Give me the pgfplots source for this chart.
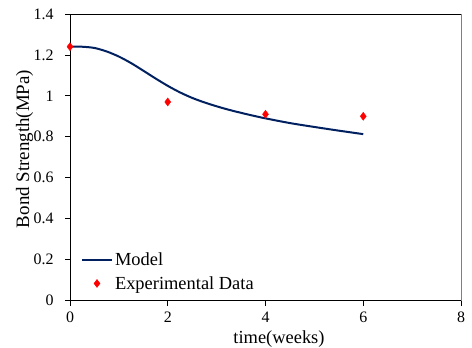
\documentclass[border=0pt]{standalone}
\usepackage{fontspec}
\setmainfont{Liberation Serif}
\usepackage{pgfplots}
\pgfplotsset{compat=1.18}
\definecolor{modelblue}{RGB}{0,32,96}
\definecolor{expred}{RGB}{255,0,0}
\begin{document}
\begin{tikzpicture}
\begin{axis}[
  name=main,
  scale only axis,
  width=391bp, height=286.5bp,
  xmin=0, xmax=8, ymin=0, ymax=1.4,
  xtick={0,2,4,6,8},
  ytick={0,0.2,0.4,0.6,0.8,1,1.2,1.4},
  axis x line*=bottom, axis y line*=left,
  axis line style={black, line width=0.8bp},
  tick align=outside,
  major tick length=5bp,
  tick style={black, line width=0.8bp},
  /pgf/number format/assume math mode=true,
  ticklabel style={font=\fontsize{16}{19}\selectfont},
  xticklabel style={yshift=-5bp, inner sep=1bp},
  yticklabel style={xshift=-8bp},
  xlabel={time(weeks)},
  ylabel={Bond Strength(MPa)},
  xlabel style={font=\fontsize{18.5}{22}\selectfont, at={(axis description cs:0.5345,-0.136)}, anchor=center, inner sep=0bp},
  ylabel style={font=\fontsize{19}{22}\selectfont, at={(axis description cs:-0.116,0.529)}, anchor=center, rotate=0},
  clip=false,
  legend cell align=left,
  legend style={draw=none, fill=none, font=\fontsize{18.5}{22}\selectfont,
    at={(axis description cs:0.02,0.02)}, anchor=south west, row sep=5bp},
  legend image code/.code={\draw[mark repeat=2,mark phase=2,#1] plot coordinates {(0bp,0bp) (15bp,0bp) (30bp,0bp)};},
]
% model prediction
\addplot[color=modelblue, line width=2bp, smooth, tension=0.5] coordinates {
  (0,1.240) (0.25,1.240) (0.5,1.234) (0.75,1.217) (1,1.192) (1.25,1.160)
  (1.5,1.123) (1.75,1.085) (2,1.049) (2.25,1.017) (2.5,0.990) (2.75,0.968)
  (3,0.949) (3.25,0.932) (3.5,0.917) (3.75,0.903) (4,0.890) (4.5,0.867)
  (5,0.848) (5.5,0.830) (6,0.813)
};
\addlegendentry{Model}
% measured bond strength
\addplot[only marks, mark=diamond*, mark size=4bp, color=expred] coordinates {
  (0,1.24) (2,0.97) (4,0.91) (6,0.90)
};
\addlegendentry{Experimental Data}
% upper and right frame lines
\draw[black, line width=0.8bp] (rel axis cs:0,1) -- (rel axis cs:1,1);
\draw[gray, line width=0.8bp] (rel axis cs:1,1) -- (rel axis cs:1,0);
\end{axis}
\pgfresetboundingbox
\path[use as bounding box] ([xshift=-70bp,yshift=-46.5bp]main.south west) rectangle ([xshift=11bp,yshift=14bp]main.north east);
\end{tikzpicture}
\end{document}
